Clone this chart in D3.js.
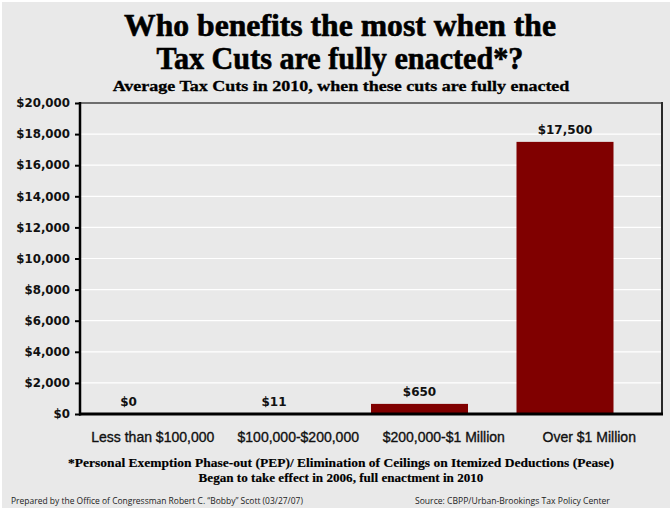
<!DOCTYPE html>
<html><head><meta charset="utf-8">
<script src="https://cdn.jsdelivr.net/npm/d3@7"></script>
<style>html,body{margin:0;padding:0;background:#fff;} svg{display:block;}</style>
</head><body>
<svg id="c" width="670" height="508"></svg>
<script>
const categories = ["Less than $100,000", "$100,000-$200,000", "$200,000-$1 Million", "Over $1 Million"];
const values = [0, 11, 650, 17500];
const valueLabels = ["$0", "$11", "$650", "$17,500"];
const yTicks = [0, 2000, 4000, 6000, 8000, 10000, 12000, 14000, 16000, 18000, 20000];
const titleLines = ["Who benefits the most when the", "Tax Cuts are fully enacted*?"];
const subtitle = "Average Tax Cuts in 2010, when these cuts are fully enacted";
const footLines = ["*Personal Exemption Phase-out (PEP)/ Elimination of Ceilings on Itemized Deductions (Pease)", "Began to take effect in 2006, full enactment in 2010"];
const credit = "Prepared by the Office of Congressman Robert C. \u201CBobby\u201D Scott (03/27/07)";
const source = "Source: CBPP/Urban-Brookings Tax Policy Center";

const svg = d3.select("#c");
svg.append("rect").attr("x",2).attr("y",2).attr("width",668).attr("height",506).attr("fill","#e9e9e9");

const L=80, R=662, T=103, B=414;
const x = d3.scaleBand().domain(categories).range([L,R]).paddingInner(0).paddingOuter(0);
const y = d3.scaleLinear().domain([0,20000]).range([B,T]);

// gridlines
svg.append("g").selectAll("line").data(yTicks.filter(d=>d>0 && d<20000)).join("line")
  .attr("x1",L).attr("x2",R).attr("y1",d=>y(d)).attr("y2",d=>y(d))
  .attr("stroke","#ffffff").attr("stroke-width",1.2);

// top and right border
svg.append("line").attr("x1",L).attr("x2",R).attr("y1",T).attr("y2",T).attr("stroke","#6e6e6e").attr("stroke-width",2);
svg.append("line").attr("x1",R).attr("x2",R).attr("y1",T-1).attr("y2",B).attr("stroke","#2a2a2a").attr("stroke-width",2);

// bars
const bw = x.bandwidth()*2/3;
svg.append("g").selectAll("rect").data(values).join("rect")
  .attr("x",(d,i)=>x(categories[i]))
  .attr("width",bw)
  .attr("y",d=>y(d))
  .attr("height",d=>B-y(d))
  .attr("fill","#800000");

// value labels
svg.append("g").selectAll("text").data(values).join("text")
  .attr("x",(d,i)=>x(categories[i])+bw/2)
  .attr("y",d=>y(d)-8)
  .attr("text-anchor","middle")
  .attr("font-family","DejaVu Sans, sans-serif").attr("font-weight","bold").attr("font-size","12px")
  .attr("fill","#111")
  .text((d,i)=>valueLabels[i]);

// y axis
const yAxis = d3.axisLeft(y).tickValues(yTicks).tickSize(5).tickPadding(5)
  .tickFormat(d=>"$"+d3.format(",")(d));
const ga = svg.append("g").attr("transform",`translate(${L},0)`).call(yAxis);
ga.select(".domain").remove();
ga.selectAll(".tick line").attr("stroke","#000").attr("stroke-width",2);
ga.selectAll(".tick text").attr("font-family","DejaVu Sans, sans-serif").attr("font-weight","bold")
  .attr("font-size","11.8px").attr("fill","#111");
svg.append("line").attr("x1",L).attr("x2",L).attr("y1",T-1).attr("y2",B+1.5).attr("stroke","#000").attr("stroke-width",2.5);

// x axis
const xAxis = d3.axisBottom(x).tickSize(0).tickPadding(18);
const gx = svg.append("g").attr("transform",`translate(0,${B})`).call(xAxis);
gx.select(".domain").remove();
gx.selectAll(".tick text").attr("font-family","Liberation Sans, Arial, sans-serif")
  .attr("font-size","14px").attr("fill","#111").attr("stroke","#111").attr("stroke-width",0.35);
svg.append("line").attr("x1",L-1).attr("x2",R+1).attr("y1",B).attr("y2",B).attr("stroke","#000").attr("stroke-width",3);

// text squeezed horizontally to a target width (condensed serif look)
function squeezed(str, cx, by, size, target, strokeW){
  const g = svg.append("g");
  const t = g.append("text").attr("x",0).attr("y",0).attr("text-anchor","middle")
    .attr("font-family","Liberation Serif, serif").attr("font-weight","bold")
    .attr("font-size",size+"px").attr("fill","#000").text(str);
  if(strokeW) t.attr("stroke","#000").attr("stroke-width",strokeW);
  const w = t.node().getComputedTextLength();
  g.attr("transform",`translate(${cx},${by}) scale(${target/w},1)`);
  return g;
}

squeezed(titleLines[0], 340, 36, 31.5, 432, 0.6);
squeezed(titleLines[1], 340, 69, 31.5, 367, 0.6);
squeezed(subtitle, 341, 91, 15, 457, 0.3);
squeezed(footLines[0], 341, 467, 11.5, 546, 0.15);
squeezed(footLines[1], 341, 482, 11.5, 285, 0.15);

function fitText(sel, target){
  const w = sel.node().getComputedTextLength();
  const fs = parseFloat(sel.attr("font-size"));
  sel.attr("font-size",(fs*target/w).toFixed(2)+"px");
}

// credits
const c1 = svg.append("text").attr("x",11).attr("y",504)
  .attr("font-family","Open Sans, sans-serif").attr("font-size","8px").attr("fill","#222").text(credit);
fitText(c1,292);
const c2 = svg.append("text").attr("x",415).attr("y",504)
  .attr("font-family","Open Sans, sans-serif").attr("font-size","8px").attr("fill","#222").text(source);
fitText(c2,195);
</script>
</body></html>
